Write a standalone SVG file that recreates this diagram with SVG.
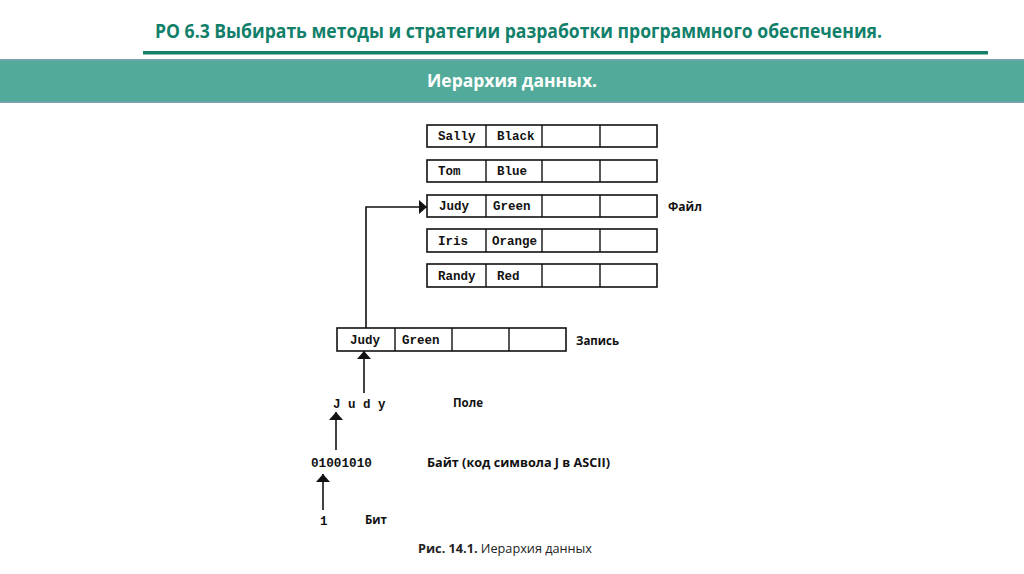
<svg xmlns="http://www.w3.org/2000/svg" width="1024" height="574" viewBox="0 0 1024 574">
<style>
.cell{fill:#fff;stroke:#111;stroke-width:1.6}
.div{stroke:#111;stroke-width:1.4}
.mono{font-family:"Liberation Mono","Courier New",monospace;font-weight:bold;font-size:12.5px;fill:#111}
.lbl{font-family:"Open Sans","Liberation Sans",Arial,sans-serif;font-weight:bold;font-size:12px;fill:#111}
.conn{fill:none;stroke:#111;stroke-width:1.6}
</style>
<defs>
<marker id="ah" viewBox="0 0 8 14" refX="8" refY="7" markerWidth="8" markerHeight="14" markerUnits="userSpaceOnUse" orient="auto">
<path d="M0,0 L8,7 L0,14 z" fill="#111"/>
</marker>
</defs>
<rect width="1024" height="574" fill="#fff"/>
<g id="header">
<text x="155" y="38" font-family="'Open Sans','Noto Sans',sans-serif" font-weight="bold" font-size="19" fill="#11806a" textLength="727" lengthAdjust="spacingAndGlyphs">РО 6.3 Выбирать методы и стратегии разработки программного обеспечения.</text>
<rect x="143" y="51" width="845" height="3.5" fill="#17806a"/>
<rect x="0" y="59" width="1024" height="44" fill="#52ab9a"/>
<rect x="0" y="59" width="1024" height="1.5" fill="#7f9fb4"/>
<rect x="0" y="101.5" width="1024" height="1.5" fill="#7f9fb4"/>
<text x="427" y="87" font-family="'Open Sans','Noto Sans',sans-serif" font-weight="bold" font-size="17" fill="#fff" textLength="170" lengthAdjust="spacingAndGlyphs">Иерархия данных.</text>
</g>
<g id="file">
<g id="row-sally">
<rect class="cell" x="427" y="125" width="230" height="22"/>
<line class="div" x1="486" y1="125" x2="486" y2="147"/><line class="div" x1="542" y1="125" x2="542" y2="147"/><line class="div" x1="600" y1="125" x2="600" y2="147"/>
<text class="mono" x="438" y="140">Sally</text><text class="mono" x="497" y="140">Black</text>
</g>
<g id="row-tom">
<rect class="cell" x="427" y="160" width="230" height="22"/>
<line class="div" x1="486" y1="160" x2="486" y2="182"/><line class="div" x1="542" y1="160" x2="542" y2="182"/><line class="div" x1="600" y1="160" x2="600" y2="182"/>
<text class="mono" x="438" y="175">Tom</text><text class="mono" x="497" y="175">Blue</text>
</g>
<g id="row-judy">
<rect class="cell" x="427" y="195" width="230" height="22"/>
<line class="div" x1="486" y1="195" x2="486" y2="217"/><line class="div" x1="542" y1="195" x2="542" y2="217"/><line class="div" x1="600" y1="195" x2="600" y2="217"/>
<text class="mono" x="439" y="210">Judy</text><text class="mono" x="493" y="210">Green</text>
</g>
<g id="row-iris">
<rect class="cell" x="427" y="229" width="230" height="23"/>
<line class="div" x1="486" y1="229" x2="486" y2="252"/><line class="div" x1="542" y1="229" x2="542" y2="252"/><line class="div" x1="600" y1="229" x2="600" y2="252"/>
<text class="mono" x="438" y="245">Iris</text><text class="mono" x="492" y="245">Orange</text>
</g>
<g id="row-randy">
<rect class="cell" x="427" y="264" width="230" height="23"/>
<line class="div" x1="486" y1="264" x2="486" y2="287"/><line class="div" x1="542" y1="264" x2="542" y2="287"/><line class="div" x1="600" y1="264" x2="600" y2="287"/>
<text class="mono" x="438" y="280">Randy</text><text class="mono" x="497" y="280">Red</text>
</g>
<text class="lbl" x="668" y="211" textLength="34" lengthAdjust="spacingAndGlyphs">Файл</text>
</g>
<g id="record">
<rect class="cell" x="337" y="328" width="229" height="23"/>
<line class="div" x1="395" y1="328" x2="395" y2="351"/><line class="div" x1="452" y1="328" x2="452" y2="351"/><line class="div" x1="509" y1="328" x2="509" y2="351"/>
<text class="mono" x="350" y="344">Judy</text><text class="mono" x="402" y="344">Green</text>
<text class="lbl" x="576" y="345" textLength="43" lengthAdjust="spacingAndGlyphs">Запись</text>
</g>
<g id="field">
<text class="mono" x="333" y="408">J u d y</text>
<text class="lbl" x="453" y="407" textLength="30" lengthAdjust="spacingAndGlyphs">Поле</text>
</g>
<g id="byte">
<text class="mono" x="311" y="467" textLength="61" lengthAdjust="spacingAndGlyphs">01001010</text>
<text class="lbl" x="427" y="467" textLength="183" lengthAdjust="spacingAndGlyphs">Байт (код символа J в ASCII)</text>
</g>
<g id="bit">
<text class="mono" x="320" y="525">1</text>
<text class="lbl" x="365" y="524" textLength="22" lengthAdjust="spacingAndGlyphs">Бит</text>
</g>
<g id="connectors">
<path class="conn" d="M366,328 V207 H427" marker-end="url(#ah)"/>
<path class="conn" d="M364,393 V351" marker-end="url(#ah)"/>
<path class="conn" d="M336,450 V412" marker-end="url(#ah)"/>
<path class="conn" d="M323,510 V474" marker-end="url(#ah)"/>
</g>
<g id="caption">
<text x="418" y="553" font-family="'Open Sans','Noto Sans',sans-serif" font-size="12" fill="#222" textLength="174" lengthAdjust="spacingAndGlyphs"><tspan font-weight="bold">Рис. 14.1.</tspan> Иерархия данных</text>
</g>
</svg>
